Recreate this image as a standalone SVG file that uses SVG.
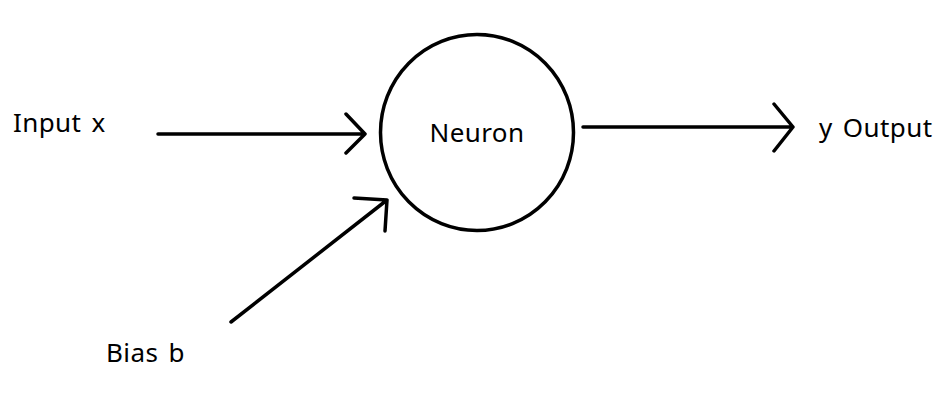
<svg xmlns="http://www.w3.org/2000/svg" width="936" height="399" viewBox="0 0 936 399">
<style>
.lbl{font-family:"Noto Sans","Open Sans","Liberation Sans",sans-serif;font-size:26px;fill:#000;letter-spacing:0.4px;word-spacing:3px}
.ln{stroke:#000;stroke-width:3.5;fill:none;stroke-linecap:round;stroke-linejoin:round}
</style>
<rect width="936" height="399" fill="#fff"/>
<g id="neuron">
<ellipse cx="477" cy="132.5" rx="96.5" ry="98" fill="none" stroke="#000" stroke-width="3.5"/>
<text class="lbl" x="477" y="142" text-anchor="middle">Neuron</text>
</g>
<g id="input"><text class="lbl" x="13" y="132">Input x</text></g>
<g id="output"><text class="lbl" x="819" y="137">y Output</text></g>
<g id="bias"><text class="lbl" x="106" y="362">Bias b</text></g>
<g id="connectors">
<path class="ln" d="M158 134H365M346 114L365 134L346 153"/>
<path class="ln" d="M583 127H793M774 104L793 127L774 151"/>
<path class="ln" d="M231 322L387 200M354 198L387 200L385 231"/>
</g>
</svg>
